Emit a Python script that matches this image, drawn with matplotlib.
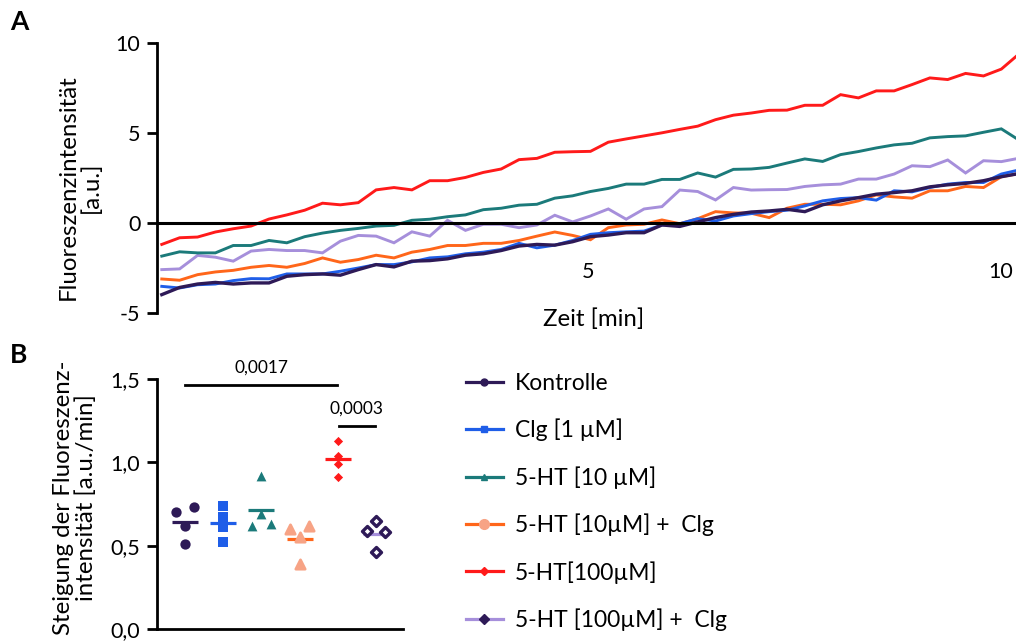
import numpy as np
import matplotlib
matplotlib.use("Agg")
import matplotlib.pyplot as plt
from matplotlib.lines import Line2D

plt.rcParams['font.family'] = ['Lato', 'DejaVu Sans']

# ---------------- Panel A data (fluorescence traces) ----------------
time_min = np.round(np.linspace(-0.16, 10.22, 49), 3)

trace_kontrolle = [-3.98, -3.58, -3.39, -3.30, -3.39, -3.33, -3.33, -2.96, -2.87, -2.83,
                   -2.90, -2.59, -2.31, -2.44, -2.12, -2.09, -1.99, -1.79, -1.71, -1.53,
                   -1.28, -1.19, -1.23, -1.04, -0.76, -0.67, -0.54, -0.54, -0.11, -0.19,
                   0.06, 0.30, 0.48, 0.61, 0.67, 0.76, 0.63, 1.01, 1.23, 1.41,
                   1.60, 1.69, 1.79, 2.01, 2.12, 2.20, 2.35, 2.57, 2.75]
trace_clg = [-3.52, -3.61, -3.43, -3.39, -3.20, -3.09, -3.10, -2.83, -2.83, -2.83,
             -2.68, -2.50, -2.31, -2.31, -2.16, -1.94, -1.88, -1.71, -1.62, -1.47,
             -1.13, -1.38, -1.23, -0.97, -0.63, -0.54, -0.49, -0.45, -0.11, -0.04,
             0.24, 0.11, 0.39, 0.52, 0.63, 0.71, 0.95, 1.23, 1.36, 1.41,
             1.27, 1.79, 1.73, 1.97, 2.16, 2.25, 2.25, 2.72, 2.95]
trace_ht10 = [-1.84, -1.60, -1.66, -1.66, -1.25, -1.25, -0.97, -1.10, -0.76, -0.56,
              -0.41, -0.30, -0.17, -0.13, 0.15, 0.21, 0.35, 0.45, 0.74, 0.82,
              0.99, 1.04, 1.38, 1.51, 1.75, 1.92, 2.16, 2.16, 2.42, 2.42,
              2.78, 2.55, 2.98, 3.00, 3.09, 3.33, 3.56, 3.42, 3.80, 3.97,
              4.17, 4.34, 4.43, 4.73, 4.80, 4.84, 5.04, 5.23, 4.60]
trace_ht10_clg = [-3.11, -3.18, -2.87, -2.72, -2.63, -2.46, -2.36, -2.46, -2.25, -1.94,
                  -2.18, -2.03, -1.79, -1.94, -1.62, -1.47, -1.25, -1.25, -1.13, -1.13,
                  -0.97, -0.73, -0.50, -0.69, -0.93, -0.26, -0.11, -0.07, 0.17, -0.04,
                  0.24, 0.63, 0.56, 0.54, 0.30, 0.82, 1.04, 1.04, 1.01, 1.23,
                  1.56, 1.45, 1.38, 1.79, 1.79, 2.03, 1.97, 2.57, 2.75]
trace_ht100 = [-1.19, -0.82, -0.78, -0.50, -0.32, -0.17, 0.22, 0.45, 0.71, 1.10,
               1.01, 1.13, 1.84, 1.97, 1.84, 2.35, 2.35, 2.53, 2.81, 3.00,
               3.52, 3.59, 3.93, 3.96, 3.98, 4.49, 4.67, 4.84, 5.01, 5.20,
               5.38, 5.74, 5.99, 6.11, 6.26, 6.27, 6.54, 6.54, 7.13, 6.95,
               7.34, 7.34, 7.69, 8.06, 7.97, 8.31, 8.17, 8.55, 9.40]
trace_ht100_clg = [-2.59, -2.55, -1.80, -1.90, -2.12, -1.56, -1.47, -1.53, -1.53, -1.66,
                   -1.01, -0.69, -0.73, -1.10, -0.49, -0.73, 0.15, -0.41, -0.07, -0.07,
                   -0.26, -0.11, 0.43, 0.06, 0.39, 0.78, 0.21, 0.78, 0.91, 1.83,
                   1.75, 1.28, 1.97, 1.83, 1.85, 1.86, 2.03, 2.12, 2.16, 2.44,
                   2.44, 2.72, 3.18, 3.13, 3.50, 2.78, 3.46, 3.41, 3.60]

yticks_a = [-5, 0, 5, 10]
xticks_a = [5, 10]

# ---------------- Panel B data (slopes) ----------------
group_labels = ['Kontrolle', 'Clg [1 \u00b5M]', '5-HT [10 \u00b5M]',
                '5-HT [10\u00b5M] +  Clg', '5-HT[100\u00b5M]', '5-HT [100\u00b5M] +  Clg']
slope_kontrolle = [0.70, 0.73, 0.62, 0.51]
slope_clg = [0.74, 0.67, 0.61, 0.52]
slope_ht10 = [0.92, 0.69, 0.62, 0.63]
slope_ht10_clg = [0.60, 0.62, 0.55, 0.39]
slope_ht100 = [1.13, 1.04, 0.99, 0.91]
slope_ht100_clg = [0.65, 0.59, 0.58, 0.46]
yticks_b = [0.0, 0.5, 1.0, 1.5]
ytick_labels_b = ['0,0', '0,5', '1,0', '1,5']
p_values = ['0,0017', '0,0003']

# ---------------- styles ----------------
c_kon = '#2e1a57'
c_clg = '#1f5ee8'
c_ht10 = '#1b7a7a'
c_ht10clg = '#ff661a'
c_ht10clg_m = '#f7a385'
c_ht100 = '#ff1a1a'
c_ht100clg = '#a68fdb'

W, H = 1016, 642
fig = plt.figure(figsize=(W / 100, H / 100), dpi=100)


def box(l, t, r, b):
    return [l / W, 1 - b / H, (r - l) / W, (b - t) / H]


TICK_FS = 15.5
LABEL_FS = 17.3

# ---------------- Panel A ----------------
axA = fig.add_axes(box(157, 43, 1016, 313))
x_per_px = 1 / 82.6
axA.set_xlim((157 - 175) * x_per_px, (1016 - 175) * x_per_px)
axA.set_ylim(-5, 10)

traces = [(trace_ht100_clg, c_ht100clg, 2.1), (trace_ht10, c_ht10, 2.1),
          (trace_ht100, c_ht100, 2.1), (trace_ht10_clg, c_ht10clg, 2.1),
          (trace_clg, c_clg, 2.1), (trace_kontrolle, c_kon, 2.4)]
for tr, col, lw in traces:
    assert len(tr) == len(time_min)
    axA.plot(time_min, tr, color=col, lw=lw, solid_joinstyle='miter')

for s in ['top', 'right']:
    axA.spines[s].set_visible(False)
axA.spines['left'].set_linewidth(2.0)
axA.spines['bottom'].set_position(('data', 0))
axA.spines['bottom'].set_linewidth(2.2)
axA.spines['bottom'].set_zorder(5)
axA.set_yticks(yticks_a)
axA.set_yticklabels([str(v) for v in yticks_a])
axA.set_xticks(xticks_a)
axA.set_xticklabels([str(v) for v in xticks_a])
axA.tick_params(axis='y', length=7, width=2.0, labelsize=TICK_FS, pad=5)
axA.tick_params(axis='x', length=0, labelsize=TICK_FS, pad=28)

fig.text(594 / W, 1 - 319 / H, 'Zeit [min]', ha='center', va='center', fontsize=LABEL_FS)
fig.text(80 / W, 1 - 187 / H, 'Fluoreszenzintensit\u00e4t\n[a.u.]', rotation=90,
         ha='center', va='center', multialignment='center', fontsize=LABEL_FS, linespacing=1.05)
fig.text(19 / W, 1 - 22 / H, 'A', ha='center', va='center', fontsize=19, fontweight='bold')

# ---------------- Panel B ----------------
axB = fig.add_axes(box(157, 379, 403, 629))
gx_per_px = 1 / 38.2
axB.set_xlim((157 - 185) * gx_per_px, (403 - 185) * gx_per_px)
axB.set_ylim(0, 1.5)

slopes = [slope_kontrolle, slope_clg, slope_ht10, slope_ht10_clg, slope_ht100, slope_ht100_clg]
jitter = [[-0.24, 0.24, 0, 0], [0, 0, 0, 0], [0, 0, -0.24, 0.24],
          [-0.24, 0.24, 0, 0], [0, 0, 0, 0], [0, -0.24, 0.24, 0]]
mean_colors = [c_kon, c_clg, c_ht10, c_ht10clg, c_ht100, c_ht100clg]
marker_style = [
    dict(marker='o', s=55, facecolor=c_kon, edgecolor=c_kon, linewidths=0),
    dict(marker='s', s=45, facecolor=c_clg, edgecolor=c_clg, linewidths=0),
    dict(marker='^', s=50, facecolor=c_ht10, edgecolor=c_ht10, linewidths=0),
    dict(marker='^', s=45, facecolor=c_ht10clg_m, edgecolor=c_ht10clg_m, linewidths=2.0),
    dict(marker='D', s=22, facecolor=c_ht100, edgecolor=c_ht100, linewidths=0),
    dict(marker='D', s=26, facecolor='white', edgecolor=c_kon, linewidths=2.4),
]
for i, vals in enumerate(slopes):
    xs = i + np.array(jitter[i])
    m = np.mean(vals)
    axB.plot([i - 0.34, i + 0.34], [m, m], color=mean_colors[i], lw=2.3, zorder=3,
             solid_capstyle='butt')
    axB.scatter(xs, vals, zorder=4, clip_on=False, **marker_style[i])

# significance bars
axB.plot([0, 3.98], [1.464, 1.464], color='black', lw=2.0, clip_on=False)
axB.text(2, 1.566, p_values[0], ha='center', va='center', fontsize=12.5)
axB.plot([4.02, 4.97], [1.218, 1.218], color='black', lw=2.0, clip_on=False)
axB.text(4.5, 1.32, p_values[1], ha='center', va='center', fontsize=12.5)

for s in ['top', 'right']:
    axB.spines[s].set_visible(False)
axB.spines['left'].set_linewidth(2.0)
axB.spines['bottom'].set_linewidth(2.0)
axB.set_xticks([])
axB.set_yticks(yticks_b)
axB.set_yticklabels(ytick_labels_b)
axB.tick_params(axis='y', length=7, width=2.0, labelsize=TICK_FS, pad=5)

fig.text(75 / W, 1 - 498 / H, 'Steigung der Fluoreszenz-\nintensit\u00e4t [a.u./min]',
         rotation=90, ha='center', va='center', multialignment='center', fontsize=LABEL_FS,
         linespacing=1.05)
fig.text(19 / W, 1 - 355 / H, 'B', ha='center', va='center', fontsize=19, fontweight='bold')

# legend
leg_line_colors = [c_kon, c_clg, c_ht10, c_ht10clg, c_ht100, c_ht100clg]
leg_markers = ['o', 's', '^', 'o', 'D', 'D']
leg_mfc = [c_kon, c_clg, c_ht10, c_ht10clg_m, c_ht100, c_kon]
leg_ms = [5, 5, 5, 7, 4, 5]
handles = [Line2D([], [], color=leg_line_colors[k], lw=2.3, marker=leg_markers[k],
                  markerfacecolor=leg_mfc[k], markeredgecolor=leg_mfc[k], markersize=leg_ms[k])
           for k in range(6)]
fig.legend(handles, group_labels, loc='upper left', bbox_to_anchor=(466 / W, 1 - 373 / H),
           frameon=False, fontsize=16.5, handlelength=1.6, handletextpad=0.52,
           labelspacing=1.08, borderpad=0, borderaxespad=0)

fig.savefig('out.png', dpi=100)
